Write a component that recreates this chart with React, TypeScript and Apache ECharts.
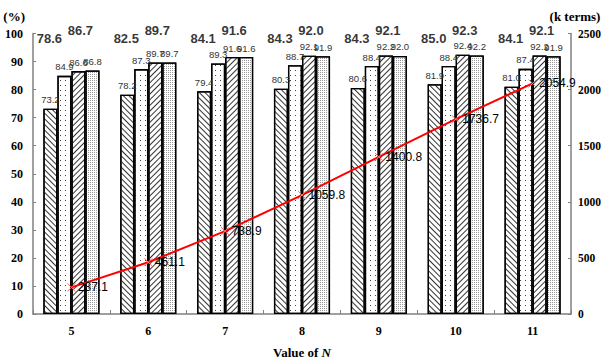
import React, { useEffect, useRef } from "react";
import * as echarts from "echarts";

const categories = ["5", "6", "7", "8", "9", "10", "11"];
const bar1 = [73.2, 78.2, 79.4, 80.3, 80.6, 81.9, 81.0];
const bar2 = [84.9, 87.3, 89.3, 88.7, 88.4, 88.4, 87.4];
const bar3 = [86.6, 89.7, 91.6, 92.1, 92.2, 92.4, 92.2];
const bar4 = [86.8, 89.7, 91.6, 91.9, 92.0, 92.2, 91.9];
const avgA = [78.6, 82.5, 84.1, 84.3, 84.3, 85.0, 84.1];
const avgB = [86.7, 89.7, 91.6, 92.0, 92.1, 92.3, 92.1];
const termsK = [237.1, 461.1, 738.9, 1059.8, 1400.8, 1736.7, 2054.9];
const leftTicks = { min: 0, max: 100, interval: 10 };
const rightTicks = { min: 0, max: 2500, interval: 500 };

const SERIF = "'Liberation Serif', 'Times New Roman', serif";
const SANS = "'Liberation Sans', Arial, sans-serif";
const AXIS_GRAY = "#808080";

export default function App() {
  const ref = useRef<HTMLDivElement>(null);
  useEffect(() => {
    document.body.style.margin = "0";
    const chart = echarts.init(ref.current!, null, { renderer: "svg" });
    const hatchBack = {
      symbol: "rect",
      symbolSize: 1,
      dashArrayX: [1, 0],
      dashArrayY: [1, 2.5],
      rotation: Math.PI / 4,
      color: "#333",
    };
    const hatchFwd = {
      symbol: "rect",
      symbolSize: 1,
      dashArrayX: [1, 0],
      dashArrayY: [1, 2.5],
      rotation: -Math.PI / 4,
      color: "#333",
    };
    const dotsSparse = {
      symbol: "rect",
      symbolSize: 1,
      dashArrayX: [1, 4],
      dashArrayY: [1, 4],
      rotation: 0,
      color: "#444",
    };
    const dotsDense = {
      symbol: "rect",
      symbolSize: 1,
      dashArrayX: [1, 1],
      dashArrayY: [1, 1],
      rotation: 0,
      color: "#999",
    };
    const barLabel = {
      show: true,
      position: "top",
      distance: 4,
      fontSize: 9.5,
      fontFamily: SANS,
      color: "#333",
      formatter: (p: any) => Number(p.value).toFixed(1),
    };
    const mkBar = (name: string, data: number[], decal: any) => ({
      name,
      type: "bar",
      yAxisIndex: 0,
      data,
      barGap: "0%",
      barCategoryGap: "27%",
      itemStyle: { color: "#fff", borderColor: "#000", borderWidth: 1.3, decal },
      label: barLabel,
    });
    const mkAvg = (name: string, vals: number[], level: number, dx: number) => ({
      name,
      type: "scatter",
      yAxisIndex: 0,
      clip: false,
      symbolSize: 0,
      data: vals.map((v, i) => [i, level, v]),
      label: {
        show: true,
        position: "inside",
        offset: [dx, 0],
        fontSize: 13,
        fontWeight: "bold",
        fontFamily: SANS,
        color: "#000",
        formatter: (p: any) => Number(p.value[2]).toFixed(1),
      },
      z: 5,
    });
    chart.setOption({
      animation: false,
      backgroundColor: "#fff",
      grid: {
        left: 33,
        right: 31,
        top: 33.5,
        bottom: 48,
        containLabel: false,
        outerBoundsMode: "none",
      },
      xAxis: {
        type: "category",
        data: categories,
        axisLine: { lineStyle: { color: AXIS_GRAY, width: 1.5 } },
        axisTick: { show: true, inside: true, length: 4, lineStyle: { color: AXIS_GRAY } },
        axisLabel: { fontFamily: SERIF, fontWeight: "bold", fontSize: 12, color: "#000", margin: 11 },
        name: "{a|Value of }{b|N}",
        nameLocation: "middle",
        nameGap: 32,
        nameTextStyle: {
          rich: {
            a: { fontFamily: SERIF, fontWeight: "bold", fontSize: 13, color: "#000" },
            b: { fontFamily: SERIF, fontWeight: "bold", fontStyle: "italic", fontSize: 13, color: "#000" },
          },
        },
      },
      yAxis: [
        {
          type: "value",
          ...leftTicks,
          position: "left",
          axisLine: { show: true, lineStyle: { color: AXIS_GRAY, width: 1.5 } },
          axisTick: { show: true, inside: true, length: 3, lineStyle: { color: AXIS_GRAY } },
          splitLine: { show: false },
          axisLabel: { fontFamily: SERIF, fontWeight: "bold", fontSize: 12, color: "#000", margin: 10 },
          name: "(%)",
          nameLocation: "end",
          nameGap: 11,
          nameTextStyle: {
            fontFamily: SERIF,
            fontWeight: "bold",
            fontSize: 13,
            color: "#000",
            align: "right",
            padding: [0, 8, 0, 0],
          },
        },
        {
          type: "value",
          ...rightTicks,
          position: "right",
          axisLine: { show: true, lineStyle: { color: AXIS_GRAY, width: 1.5 } },
          axisTick: { show: true, inside: true, length: 3, lineStyle: { color: AXIS_GRAY } },
          splitLine: { show: false },
          axisLabel: {
            fontFamily: SERIF,
            fontWeight: "bold",
            fontSize: 11.5,
            color: "#000",
            margin: 7,
            formatter: (v: number) => String(v),
          },
          name: "(k terms)",
          nameLocation: "end",
          nameGap: 11,
          nameTextStyle: {
            fontFamily: SERIF,
            fontWeight: "bold",
            fontSize: 13,
            color: "#000",
            align: "center",
            padding: [0, 0, 0, 8],
          },
        },
      ],
      series: [
        mkBar("b1", bar1, hatchBack),
        mkBar("b2", bar2, dotsSparse),
        mkBar("b3", bar3, hatchFwd),
        mkBar("b4", bar4, dotsDense),
        mkAvg("avgA", avgA, 98.3, -22),
        mkAvg("avgB", avgB, 101.1, 9),
        {
          name: "terms",
          type: "line",
          yAxisIndex: 1,
          data: termsK,
          z: 6,
          lineStyle: { color: "#ff0000", width: 2 },
          symbol: "path://M0,0L10,10M10,0L0,10",
          symbolSize: 8,
          itemStyle: { color: "#ff0000", borderColor: "#ff7070", borderWidth: 1 },
          label: {
            show: true,
            position: "right",
            distance: 2,
            fontSize: 12,
            fontFamily: SANS,
            color: "#000",
            formatter: (p: any) => Number(p.value).toFixed(1),
          },
        },
      ],
    });
    return () => chart.dispose();
  }, []);
  return <div ref={ref} style={{ width: 602, height: 362, position: "absolute", left: 0, top: 0 }} />;
}
